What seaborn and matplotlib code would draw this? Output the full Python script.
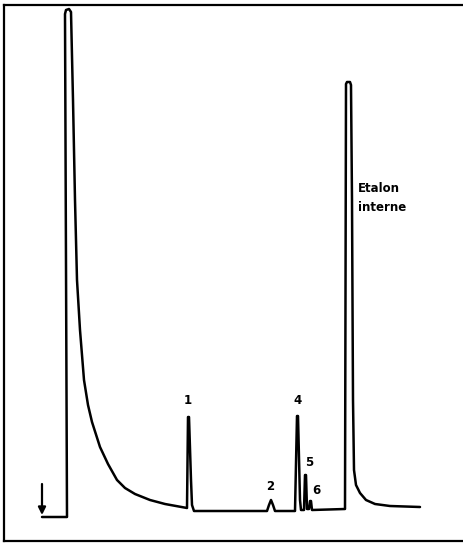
import matplotlib
matplotlib.use("Agg")
import matplotlib.pyplot as plt
import seaborn as sns
import pandas as pd

# chromatogram trace (time in chart units, detector response)
retention_time = [42, 67, 65, 66, 69, 71, 73, 75, 77, 80, 84, 88, 92, 100, 108, 117,
                  125, 135, 150, 165, 187, 188, 189, 191, 192, 194, 267, 269, 271, 273,
                  275, 295, 297, 298, 300, 301, 304, 305, 306, 307, 309, 310, 311, 312,
                  345, 346, 347, 350, 351, 352, 353, 354, 356, 360, 366, 375, 390, 420]
response = [24, 24, 527, 531, 532, 529, 441, 341, 261, 211, 161, 136, 119, 94, 77, 61,
            53, 47, 41, 37, 33, 124, 124, 61, 36, 30, 30, 36, 41, 36,
            30, 30, 125, 125, 41, 31, 31, 66, 66, 32, 32, 40, 40, 31,
            32, 457, 459, 459, 456, 341, 141, 71, 56, 48, 41, 37, 35, 34]

# peak labels
peak_names = ["1", "2", "4", "5", "6"]
peak_label_x = [188, 270, 298, 309, 316]
peak_label_y = [140, 54, 141, 78, 51]

standard_label = "Etalon\ninterne"
injection_time = 42

sns.set_theme(style="white")
plt.rcParams["font.family"] = ["DejaVu Sans"]

df = pd.DataFrame({"time": retention_time, "signal": response})

fig = plt.figure(figsize=(4.63, 5.46), dpi=100)
ax = fig.add_axes([4 / 463, 5 / 546, 459 / 463, 536 / 546])

sns.lineplot(data=df, x="time", y="signal", sort=False, estimator=None,
             color="black", linewidth=1.8, ax=ax)

for name, px, py in zip(peak_names, peak_label_x, peak_label_y):
    ax.text(px, py, name, ha="center", va="center", fontsize=8.5,
            fontweight="bold", color="black")

ax.text(358, 343, standard_label, ha="left", va="center", fontsize=8.5,
        fontweight="bold", color="black", linespacing=1.55)

# injection arrow
ax.annotate("", xy=(injection_time, 26), xytext=(injection_time, 57),
            arrowprops=dict(arrowstyle="-|>", color="black", lw=1.6,
                            mutation_scale=11, shrinkA=0, shrinkB=0))

ax.set_xlim(4, 463)
ax.set_ylim(0, 536)
ax.set_xticks([])
ax.set_yticks([])
ax.set_xlabel("")
ax.set_ylabel("")
for side in ["left", "top", "bottom"]:
    ax.spines[side].set_color("black")
    ax.spines[side].set_linewidth(1.6)
ax.spines["right"].set_visible(False)

fig.savefig("out.png", dpi=100)
